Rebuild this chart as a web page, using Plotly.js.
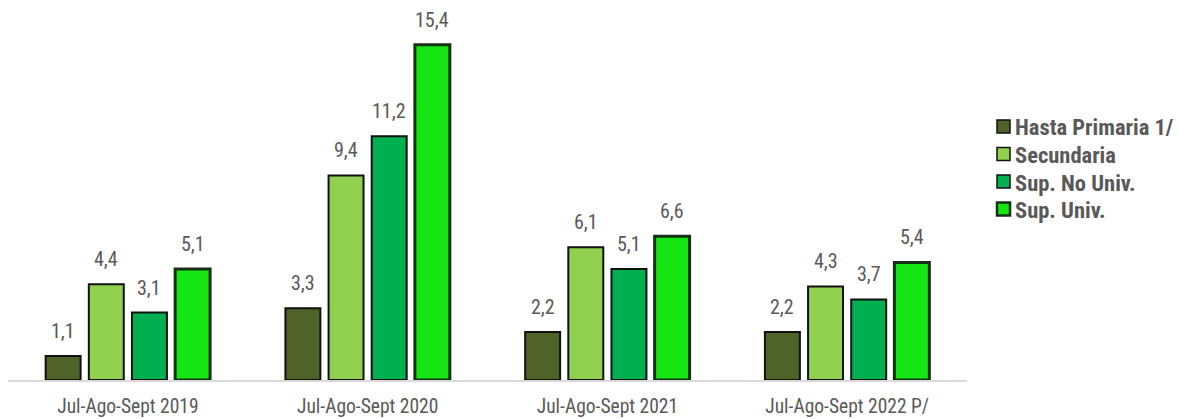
<!DOCTYPE html>
<html><head><meta charset="utf-8">
<script src="https://cdn.plot.ly/plotly-3.0.1.min.js"></script>
<style>body{margin:0;background:#fff}#c{width:1179px;height:419px}</style>
</head><body><div id="c"></div>
<script>
const categories = ["Jul-Ago-Sept 2019","Jul-Ago-Sept 2020","Jul-Ago-Sept 2021","Jul-Ago-Sept 2022 P/"];
const seriesNames = ["Hasta Primaria 1/","Secundaria","Sup. No Univ.","Sup. Univ."];
const hastaPrimaria = [1.1, 3.3, 2.2, 2.2];
const secundaria = [4.4, 9.4, 6.1, 4.3];
const supNoUniv = [3.1, 11.2, 5.1, 3.7];
const supUniv = [5.1, 15.4, 6.6, 5.4];
const values = [hastaPrimaria, secundaria, supNoUniv, supUniv];
const colors = ["#4f6228","#92d050","#00b050","#14e614"];
const lineColors = ["#111","#111","#111","#163016"];
const lineWidths = [2,2,2,3];
const fnt = "'Roboto Condensed', 'Liberation Sans Narrow', sans-serif";
const fmt = v => v.toFixed(1).replace('.', ',');
const bargap = 0.28, bargroupgap = 0.19;
const nS = values.length;
const slot = (1 - bargap) / nS;

// plot-area geometry (pixels) used to place the hand-drawn legend
const W = 1179, H = 419, mL = 8, mR = 212, mT = 10, mB = 39;
const pw = W - mL - mR, ph = H - mT - mB;
const px2x = p => (p - mL) / pw;
const py2y = p => (H - mB - p) / ph;

const traces = values.map((v,i)=>({
  type:'bar', name:seriesNames[i], x:categories, y:v,
  marker:{color:colors[i], line:{color:lineColors[i], width:lineWidths[i]}},
  hoverinfo:'skip', showlegend:false
}));
const annotations = [];
values.forEach((v,i)=>{
  v.forEach((val,j)=>{
    annotations.push({x: j + (i - (nS-1)/2)*slot, y: val, xref:'x', yref:'y',
      text: fmt(val), showarrow:false, yanchor:'bottom', yshift:11,
      font:{family:fnt, size:20, color:'#595959'}});
  });
});
const shapes = [];
const legTop = 126.5, legStep = 27.5, sq = 13, sqLeft = 997, txtLeft = 1013;
seriesNames.forEach((name,i)=>{
  const cy = legTop + i*legStep;
  shapes.push({type:'rect', xref:'paper', yref:'paper',
    x0:px2x(sqLeft), x1:px2x(sqLeft+sq), y0:py2y(cy+sq/2), y1:py2y(cy-sq/2),
    fillcolor:colors[i], line:{color:lineColors[i], width: i===3 ? 2.5 : 1.5}});
  annotations.push({xref:'paper', yref:'paper', x:px2x(txtLeft), y:py2y(cy+1),
    xanchor:'left', yanchor:'middle', showarrow:false, text:name,
    font:{family:fnt, size:22.5, color:'#595959', weight:'bold'}});
});
const layout = {
  width:W, height:H,
  margin:{l:mL, r:mR, t:mT, b:mB},
  barmode:'group', bargap:bargap, bargroupgap:bargroupgap,
  paper_bgcolor:'#fff', plot_bgcolor:'#fff',
  showlegend:false,
  xaxis:{showline:true, linecolor:'#d9d9d9', linewidth:1.5, ticks:'', ticklabelstandoff:8,
    tickfont:{family:fnt, size:19.5, color:'#595959'}, fixedrange:true, range:[-0.5,3.5]},
  yaxis:{range:[0,17], visible:false, showgrid:false, zeroline:false},
  annotations: annotations, shapes: shapes
};
Plotly.newPlot('c', traces, layout, {displayModeBar:false, staticPlot:true});
</script></body></html>
